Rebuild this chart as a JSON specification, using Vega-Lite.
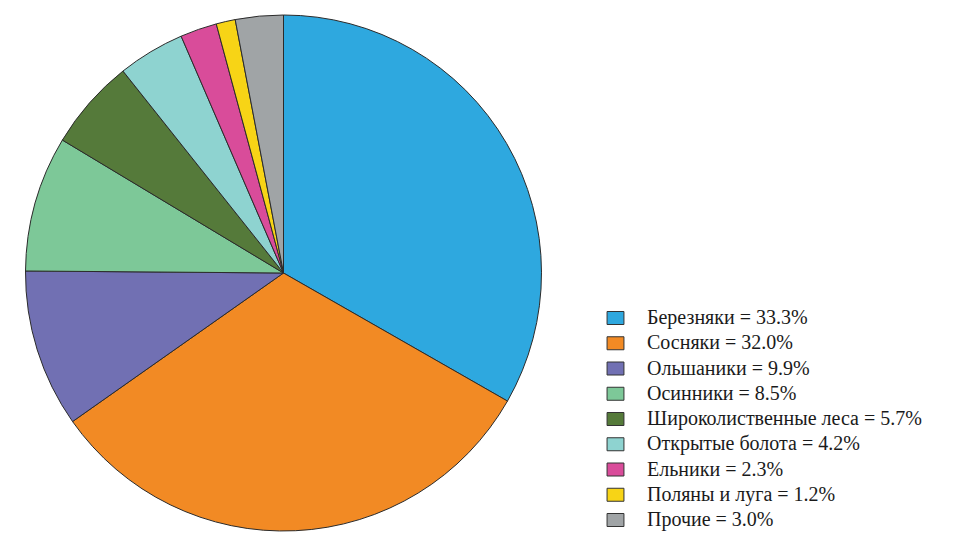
{
  "$schema": "https://vega.github.io/schema/vega-lite/v6.json",
  "width": 567,
  "height": 546,
  "autosize": {"type": "none"},
  "padding": {"left": 0, "top": 0, "right": 393, "bottom": 0},
  "background": "white",
  "view": {"stroke": null},
  "data": {
    "values": [
      {"order": 1, "name": "Березняки", "value": 33.3, "label": "Березняки = 33.3%"},
      {"order": 2, "name": "Сосняки", "value": 32.0, "label": "Сосняки = 32.0%"},
      {"order": 3, "name": "Ольшаники", "value": 9.9, "label": "Ольшаники = 9.9%"},
      {"order": 4, "name": "Осинники", "value": 8.5, "label": "Осинники = 8.5%"},
      {"order": 5, "name": "Широколиственные леса", "value": 5.7, "label": "Широколиственные леса = 5.7%"},
      {"order": 6, "name": "Открытые болота", "value": 4.2, "label": "Открытые болота = 4.2%"},
      {"order": 7, "name": "Ельники", "value": 2.3, "label": "Ельники = 2.3%"},
      {"order": 8, "name": "Поляны и луга", "value": 1.2, "label": "Поляны и луга = 1.2%"},
      {"order": 9, "name": "Прочие", "value": 3.0, "label": "Прочие = 3.0%"}
    ]
  },
  "mark": {"type": "arc", "outerRadius": 258, "stroke": "#2b2b2b", "strokeWidth": 1},
  "encoding": {
    "theta": {"field": "value", "type": "quantitative", "stack": true},
    "order": {"field": "order", "type": "quantitative"},
    "color": {
      "field": "label",
      "type": "nominal",
      "sort": ["Березняки = 33.3%", "Сосняки = 32.0%", "Ольшаники = 9.9%", "Осинники = 8.5%", "Широколиственные леса = 5.7%", "Открытые болота = 4.2%", "Ельники = 2.3%", "Поляны и луга = 1.2%", "Прочие = 3.0%"],
      "scale": {
        "domain": ["Березняки = 33.3%", "Сосняки = 32.0%", "Ольшаники = 9.9%", "Осинники = 8.5%", "Широколиственные леса = 5.7%", "Открытые болота = 4.2%", "Ельники = 2.3%", "Поляны и луга = 1.2%", "Прочие = 3.0%"],
        "range": ["#2EA8DF", "#F28A24", "#7170B3", "#7DC898", "#557A3A", "#8ED3D0", "#D94C9A", "#F7D416", "#A0A4A6"]
      },
      "legend": {
        "title": null,
        "orient": "none",
        "legendX": 605.5,
        "legendY": 308,
        "padding": 0,
        "symbolType": "M-1.3,-1L1.3,-1L1.3,1L-1.3,1Z",
        "symbolSize": 169,
        "symbolStrokeColor": "#333333",
        "symbolStrokeWidth": 1,
        "symbolOpacity": 1,
        "labelFont": "'Liberation Serif', 'Times New Roman', 'DejaVu Serif', serif",
        "labelFontSize": 20,
        "labelColor": "#1a1a1a",
        "labelOffset": 21.5,
        "labelLimit": 0,
        "rowPadding": 5.25
      }
    }
  }
}
